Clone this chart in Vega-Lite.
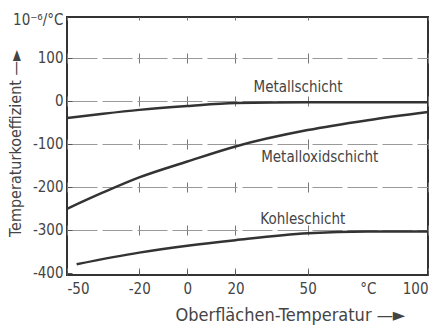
{
  "$schema": "https://vega.github.io/schema/vega-lite/v6.json",
  "autosize": "none",
  "width": 361,
  "height": 258,
  "padding": {"left": 67, "top": 17, "right": 6, "bottom": 54},
  "background": "white",
  "config": {
    "font": "DejaVu Sans Condensed",
    "view": {"stroke": "#333", "strokeWidth": 2},
    "axis": {"labelFont": "DejaVu Sans Condensed", "titleFont": "DejaVu Sans Condensed", "labelColor": "#444", "titleColor": "#444", "labelFontSize": 15, "titleFontWeight": "normal", "domain": false, "tickColor": "#555"},
    "axisX": {"grid": true, "gridColor": "#777", "gridWidth": 1, "gridDash": [10, 33], "gridDashOffset": 7}
  },
  "datasets": {
    "curves": [
      {"x": -50, "y": -40, "s": "Metallschicht"},
      {"x": -35, "y": -30, "s": "Metallschicht"},
      {"x": -20, "y": -21, "s": "Metallschicht"},
      {"x": 0, "y": -12, "s": "Metallschicht"},
      {"x": 20, "y": -5, "s": "Metallschicht"},
      {"x": 50, "y": -3, "s": "Metallschicht"},
      {"x": 75, "y": -3, "s": "Metallschicht"},
      {"x": 100, "y": -3, "s": "Metallschicht"},
      {"x": -50, "y": -251, "s": "Metalloxidschicht"},
      {"x": -35, "y": -213, "s": "Metalloxidschicht"},
      {"x": -20, "y": -178, "s": "Metalloxidschicht"},
      {"x": 0, "y": -141, "s": "Metalloxidschicht"},
      {"x": 20, "y": -106, "s": "Metalloxidschicht"},
      {"x": 50, "y": -68, "s": "Metalloxidschicht"},
      {"x": 75, "y": -45, "s": "Metalloxidschicht"},
      {"x": 100, "y": -26, "s": "Metalloxidschicht"},
      {"x": -46, "y": -380, "s": "Kohleschicht"},
      {"x": -20, "y": -353, "s": "Kohleschicht"},
      {"x": 0, "y": -337, "s": "Kohleschicht"},
      {"x": 20, "y": -324, "s": "Kohleschicht"},
      {"x": 50, "y": -308, "s": "Kohleschicht"},
      {"x": 75, "y": -304, "s": "Kohleschicht"},
      {"x": 100, "y": -304, "s": "Kohleschicht"}
    ],
    "labels": [
      {"x": 46, "y": 33, "t": "Metallschicht"},
      {"x": 55, "y": -130, "t": "Metalloxidschicht"},
      {"x": 48, "y": -274, "t": "Kohleschicht"}
    ]
  },
  "layer": [
    {
      "data": {"name": "curves"},
      "mark": {"type": "line", "interpolate": "monotone", "color": "#333", "strokeWidth": 2.5},
      "encoding": {
        "x": {"field": "x", "type": "quantitative", "scale": {"domain": [-50, 100], "nice": false},
          "axis": {"values": [-50, -20, 0, 20, 50, 75, 100], "labelExpr": "datum.value == 75 ? '°C' : replace(datum.label, '−', '-')", "title": "Oberflächen-Temperatur —►", "titleFontSize": 18, "titleAlign": "left", "titleX": 108, "titleY": 31,
            "gridOpacity": {"condition": {"test": "datum.value == 75", "value": 0}, "value": 1},
            "tickOpacity": {"condition": {"test": "datum.value == 75", "value": 0}, "value": 1},
            "tickSize": -5, "labelPadding": 11}},
        "y": {"field": "y", "type": "quantitative", "scale": {"domain": [-405, 195], "nice": false},
          "axis": {"values": [-400, -300, -200, -100, 0, 100, 190], "labelExpr": "datum.value == 190 ? '10⁻⁶/°C' : replace(datum.label, '−', '-')", "title": "Temperaturkoeffizient —►", "titleFontSize": 16, "titleBaseline": "middle", "titleX": -52, "titleY": 126,
            "grid": true, "gridDash": [30, 5], "gridColor": "#999", "gridWidth": 1,
            "gridOpacity": {"condition": {"test": "datum.value == 190 || datum.value == -400", "value": 0}, "value": 1},
            "tickOpacity": {"condition": {"test": "datum.value == 190", "value": 0}, "value": 1},
            "tickSize": -5, "labelPadding": 9}},
        "detail": {"field": "s"}
      }
    },
    {
      "data": {"name": "labels"},
      "mark": {"type": "text", "fontSize": 15, "color": "#444"},
      "encoding": {
        "x": {"field": "x", "type": "quantitative"},
        "y": {"field": "y", "type": "quantitative"},
        "text": {"field": "t"}
      }
    }
  ]
}
